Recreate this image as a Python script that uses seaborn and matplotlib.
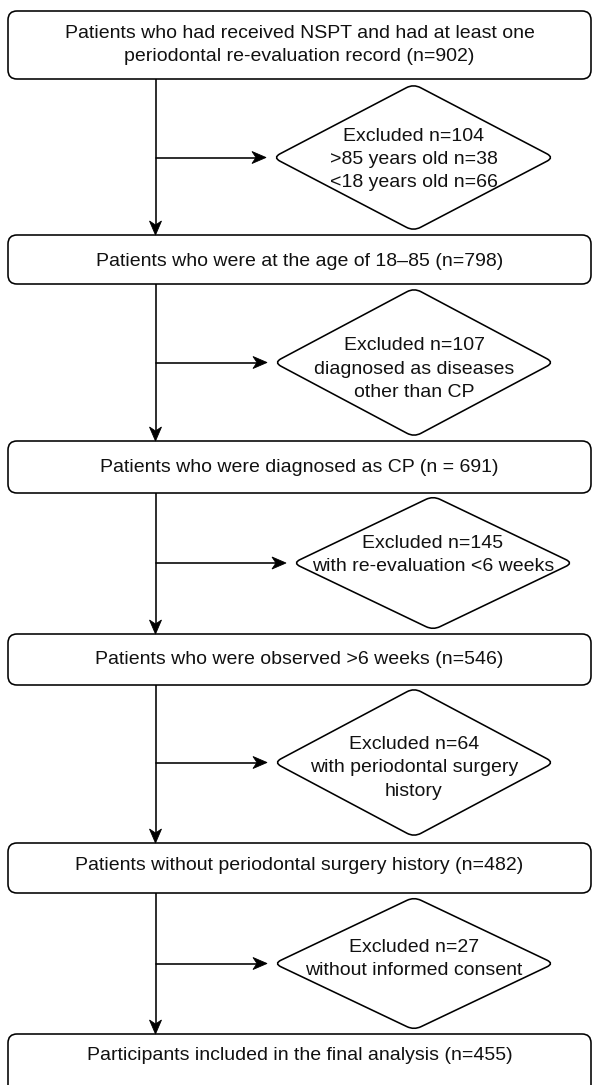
import matplotlib
matplotlib.use("Agg")
import matplotlib.pyplot as plt
import seaborn as sns
import pandas as pd
import numpy as np
from matplotlib.patches import FancyBboxPatch, PathPatch, Polygon
from matplotlib.path import Path

# ---------------- data ----------------
stage_labels = [
    "Patients who had received NSPT and had at least one\nperiodontal re-evaluation record (n=902)",
    "Patients who were at the age of 18\u201385 (n=798)",
    "Patients who were diagnosed as CP (n = 691)",
    "Patients who were observed >6 weeks (n=546)",
    "Patients without periodontal surgery history (n=482)",
    "Participants included in the final analysis (n=455)",
]
stage_counts = [902, 798, 691, 546, 482, 455]
excluded_counts = [104, 107, 145, 64, 27]
excluded_reasons = [
    ">85 years old n=38\n<18 years old n=66",
    "diagnosed as diseases\nother than CP",
    "with re-evaluation <6 weeks",
    "with periodontal surgery\nhistory",
    "without informed consent",
]

# ---------------- layout (pixels) ----------------
W, H = 593, 1085
box_left, box_right = 8, 591
box_top = [11, 235, 441, 634, 843, 1034]
box_bot = [79, 284, 493, 685, 893, 1110]
box_text_y = [45, 262, 468, 659, 866, 1055]
trunk_x = 155.5
dia_cx = [413.5, 414, 433, 414, 414]
dia_cy = [157.5, 362.5, 563, 762.5, 963.5]
dia_hw = [140.5, 140, 140, 140, 140]
dia_hh = [73.5, 74.5, 67, 74.5, 66.5]
dia_text_y = [159.5, 369, 555, 768, 959]
arrow_gap = 7

LW = 1.15
FS = 14
LSP = 1.47
FONT = ["Liberation Sans", "DejaVu Sans"]

sns.set_theme(style="white")
plt.rcParams["font.family"] = FONT

fig = plt.figure(figsize=(W / 100, H / 100), dpi=100)
ax = fig.add_axes([0, 0, 1, 1])


def arrowhead(ax, tip, direction, length=14, width=12, notch=4):
    tx, ty = tip
    dx, dy = direction
    px, py = -dy, dx
    bx, by = tx - dx * length, ty - dy * length
    pts = [
        (tx, ty),
        (bx + px * width / 2, by + py * width / 2),
        (tx - dx * (length - notch), ty - dy * (length - notch)),
        (bx - px * width / 2, by - py * width / 2),
    ]
    ax.add_patch(Polygon(pts, closed=True, facecolor="black", edgecolor="black",
                         lw=0.6, joinstyle="miter", zorder=4))


def rounded_diamond(cx, cy, hw, hh, r=0.05):
    verts = [(cx - hw, cy), (cx, cy - hh), (cx + hw, cy), (cx, cy + hh)]
    n = len(verts)
    path_v, codes = [], []
    for i in range(n):
        p = np.array(verts[i])
        prev = np.array(verts[i - 1])
        nxt = np.array(verts[(i + 1) % n])
        a = p + (prev - p) * r
        b = p + (nxt - p) * r
        path_v.append(tuple(a)); codes.append(Path.MOVETO if i == 0 else Path.LINETO)
        path_v += [tuple(p), tuple(b)]
        codes += [Path.CURVE3, Path.CURVE3]
    path_v.append(path_v[0]); codes.append(Path.LINETO)
    path_v.append(path_v[0]); codes.append(Path.CLOSEPOLY)
    return Path(path_v, codes)


# connector lines via seaborn
rows = []
seg = 0
for i in range(len(box_top) - 1):
    rows += [dict(x=trunk_x, y=box_bot[i], seg=seg), dict(x=trunk_x, y=box_top[i + 1] - 10, seg=seg)]
    seg += 1
    left = dia_cx[i] - dia_hw[i]
    rows += [dict(x=trunk_x, y=dia_cy[i], seg=seg), dict(x=left - arrow_gap - 10, y=dia_cy[i], seg=seg)]
    seg += 1
lines = pd.DataFrame(rows)
sns.lineplot(data=lines, x="x", y="y", units="seg", estimator=None, sort=False,
             color="black", lw=LW, ax=ax, legend=False)
ax.set_xlim(0, W)
ax.set_ylim(H, 0)
ax.axis("off")

for i in range(len(box_top) - 1):
    arrowhead(ax, (trunk_x, box_top[i + 1]), (0, 1))
    arrowhead(ax, (dia_cx[i] - dia_hw[i] - arrow_gap, dia_cy[i]), (1, 0))

# boxes
for i, label in enumerate(stage_labels):
    t, b = box_top[i], box_bot[i]
    ax.add_patch(FancyBboxPatch((box_left, t), box_right - box_left, b - t,
                                boxstyle="round,pad=0,rounding_size=9",
                                facecolor="white", edgecolor="black", lw=LW, zorder=3))
    ax.text((box_left + box_right) / 2, box_text_y[i], label, ha="center", va="center",
            fontsize=FS, color="#111111", linespacing=LSP, zorder=5)

# diamonds
for i in range(len(excluded_counts)):
    ax.add_patch(PathPatch(rounded_diamond(dia_cx[i], dia_cy[i], dia_hw[i], dia_hh[i]),
                           facecolor="white", edgecolor="black", lw=LW, zorder=3))
    txt = f"Excluded n={excluded_counts[i]}\n{excluded_reasons[i]}"
    ax.text(dia_cx[i], dia_text_y[i], txt, ha="center", va="center",
            fontsize=FS, color="#111111", linespacing=LSP, zorder=5)

fig.savefig("out.png", dpi=100, facecolor="white")
